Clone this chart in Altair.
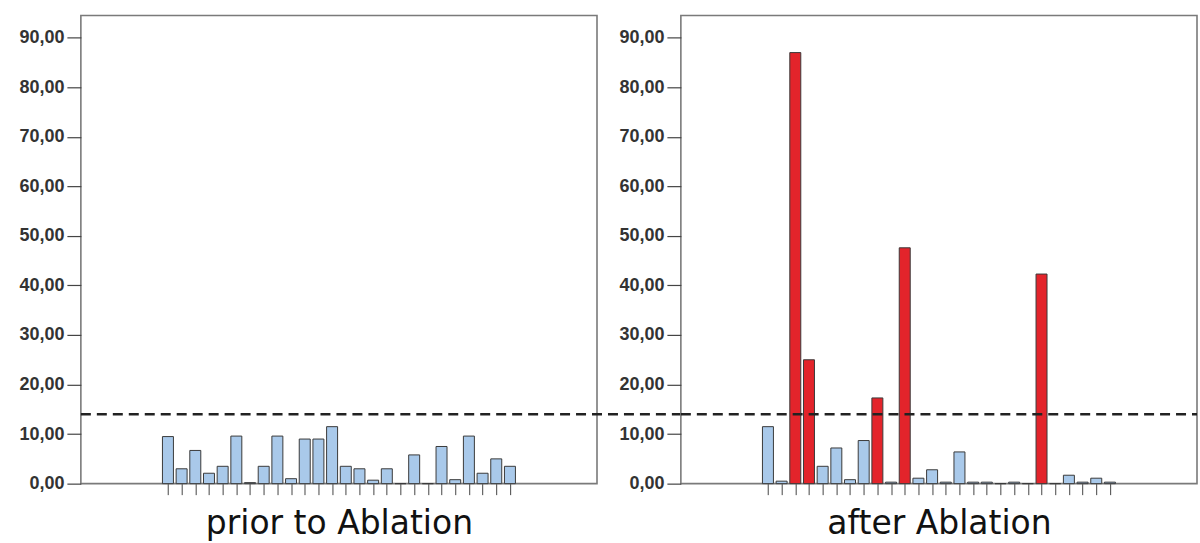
import altair as alt
import pandas as pd

positions = list(range(1, 27))
prior_values = [9.5, 3.0, 6.7, 2.1, 3.5, 9.6, 0.2, 3.5, 9.6, 1.0, 9.0, 9.0, 11.5,
                3.5, 3.0, 0.7, 3.0, 0.0, 5.8, 0.0, 7.5, 0.8, 9.6, 2.1, 5.0, 3.5]
after_values = [11.5, 0.5, 87.0, 25.0, 3.5, 7.2, 0.8, 8.7, 17.3, 0.3, 47.6, 1.1, 2.8,
                0.3, 6.4, 0.3, 0.3, 0.0, 0.3, 0.0, 42.3, 0.0, 1.7, 0.3, 1.1, 0.3]
after_flag = ["normal", "normal", "high", "high", "normal", "normal", "normal", "normal",
              "high", "normal", "high", "normal", "normal", "normal", "normal", "normal",
              "normal", "normal", "normal", "normal", "high", "normal", "normal", "normal",
              "normal", "normal"]
prior_flag = ["normal"] * 26
threshold = [14.0]
y_ticks = [0, 10, 20, 30, 40, 50, 60, 70, 80, 90]
titles = ["prior to Ablation", "after Ablation"]

W = 517
H = 469
GAP = 84


def panel(values, flags, title, rule_extra):
    df = pd.DataFrame({"pos": positions, "value": values, "flag": flags})
    x = alt.X(
        "pos:Q",
        scale=alt.Scale(domain=[-5, 32], nice=False, zero=False),
        axis=alt.Axis(
            values=positions, labels=False, domain=False, grid=False,
            tickSize=11, tickColor="#444444", tickWidth=1,
            title=title, titleFont="DejaVu Sans", titleFontSize=33,
            titleFontWeight="normal", titleColor="#111111", titlePadding=12,
        ),
    )
    y = alt.Y(
        "value:Q",
        scale=alt.Scale(domain=[0, 94.5], nice=False),
        axis=alt.Axis(
            values=y_ticks, grid=False, domain=False, title=None,
            tickSize=14, tickColor="#444444", tickWidth=1.2,
            labelFont="Liberation Sans", labelFontSize=18, labelFontWeight="bold",
            labelColor="#333333", labelPadding=3,
            labelExpr="replace(format(datum.value, '.2f'), '.', ',')",
        ),
    )
    bars = alt.Chart(df).mark_bar(size=11, stroke="#3a3a3a", strokeWidth=1).encode(
        x=x,
        y=y,
        color=alt.Color(
            "flag:N",
            scale=alt.Scale(domain=["normal", "high"], range=["#a9c9ea", "#e3242b"]),
            legend=None,
        ),
    )
    tdf = pd.DataFrame({"t": threshold})
    rule = alt.Chart(tdf).mark_rule(
        color="#222222", strokeWidth=2.5, strokeDash=[10, 6]
    ).encode(
        y=alt.Y("t:Q", scale=alt.Scale(domain=[0, 94.5], nice=False)),
        x=alt.value(0),
        x2=alt.value(W + rule_extra),
    )
    return alt.layer(bars, rule).properties(width=W, height=H)


left = panel(prior_values, prior_flag, titles[0], GAP)
right = panel(after_values, after_flag, titles[1], 0)

chart = alt.hconcat(left, right, spacing=GAP, bounds="flush").configure(
    padding={"left": 18, "top": 14, "right": 0, "bottom": 0},
    background="white",
).configure_view(stroke="#7a7a7a", strokeWidth=1.6)

chart.save("out.html", embed_options={"renderer": "svg", "actions": False})
